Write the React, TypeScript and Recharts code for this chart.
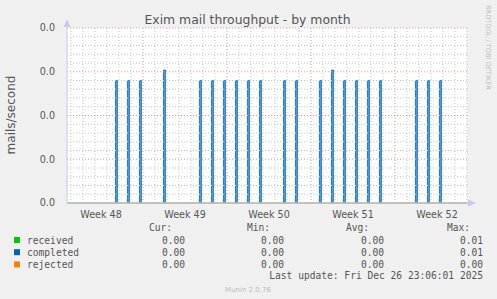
import React from 'react';
import { ComposedChart, Bar, Line, XAxis, YAxis, ReferenceLine, CartesianGrid } from 'recharts';

// time in days from the first daily gridline of the month view
const spikeTimes = [3.78, 4.78, 5.78, 7.78, 10.78, 11.78, 12.78, 13.78, 14.78, 15.78, 17.78, 18.78, 20.78, 21.78, 22.78, 23.78, 24.78, 25.78, 28.78, 29.78, 30.78];
const completedValues = [0.0028, 0.0028, 0.0028, 0.00304, 0.0028, 0.0028, 0.0028, 0.0028, 0.0028, 0.0028, 0.0028, 0.0028, 0.0028, 0.00304, 0.0028, 0.0028, 0.0028, 0.0028, 0.0028, 0.0028, 0.0028];
const receivedValues = [0, 0, 0, 0, 0, 0, 0, 0, 0, 0, 0, 0, 0, 0, 0, 0, 0, 0, 0, 0, 0];
const rejectedValues = [0, 0, 0, 0, 0, 0, 0, 0, 0, 0, 0, 0, 0, 0, 0, 0, 0, 0, 0, 0, 0];
const rangeStart = -1 / 3;
const rangeEnd = 33;

const weekLabels = ['Week 48', 'Week 49', 'Week 50', 'Week 51', 'Week 52'];
const weekLabelDays = [2.5, 9.5, 16.5, 23.5, 30.5];
const weekStartDays = [6, 13, 20, 27];
const dayLines = [0, 1, 2, 3, 4, 5, 7, 8, 9, 10, 11, 12, 14, 15, 16, 17, 18, 19, 21, 22, 23, 24, 25, 26, 28, 29, 30, 31, 32, 33];

const yMax = 0.004;
const yTicks = [0, 0.001, 0.002, 0.003, 0.004];
const yMinor = [0.0002, 0.0004, 0.0006, 0.0008, 0.0012, 0.0014, 0.0016, 0.0018, 0.0022, 0.0024, 0.0026, 0.0028, 0.0032, 0.0034, 0.0036, 0.0038];

const seriesNames = ['received', 'completed', 'rejected'];
const seriesColors = ['#00cc00', '#0066b3', '#ff8000'];
const curValues = ['0.00', '0.00', '0.00'];
const minValues = ['0.00', '0.00', '0.00'];
const avgValues = ['0.00', '0.00', '0.00'];
const maxValues = ['0.01', '0.01', '0.00'];

const data = [
  { t: rangeStart, received: 0, rejected: 0 },
  ...spikeTimes.map((t, i) => ({ t, completed: completedValues[i], received: receivedValues[i], rejected: rejectedValues[i] })),
  { t: rangeEnd, received: 0, rejected: 0 },
];

const labelFor = (v: number) => {
  const i = weekLabelDays.findIndex((d) => Math.abs(d - v) < 1e-6);
  return i >= 0 ? weekLabels[i] : '';
};

const mono = '"DejaVu Sans Mono", monospace';
const sans = '"DejaVu Sans", sans-serif';
const txt = '#555555';
const axisCol = '#c8c8f4';

export default function App() {
  return (
    <div style={{ position: 'absolute', left: 0, top: 0, width: 497, height: 299, background: '#f0f0f0', overflow: 'hidden' }}>
      <ComposedChart width={497} height={299} data={data} margin={{ top: 28, right: 30, bottom: 76, left: 0 }}>
        <CartesianGrid horizontal={false} vertical={false} fill="#ffffff" />
        {dayLines.map((d) => (
          <ReferenceLine key={'d' + d} x={d} stroke="#c4c4c4" strokeDasharray="1 2" ifOverflow="visible" />
        ))}
        {yMinor.map((v) => (
          <ReferenceLine key={'m' + v} y={v} stroke="#c4c4c4" strokeDasharray="1 2" />
        ))}
        {weekStartDays.map((d) => (
          <ReferenceLine key={'w' + d} x={d} stroke="#e89a9a" strokeDasharray="1 2" />
        ))}
        {yTicks.slice(1).map((v) => (
          <ReferenceLine key={'y' + v} y={v} stroke="#e89a9a" strokeDasharray="1 2" />
        ))}
        <XAxis
          dataKey="t"
          type="number"
          domain={[rangeStart, rangeEnd]}
          ticks={weekLabelDays}
          tickFormatter={labelFor}
          interval={0}
          height={20}
          allowDataOverflow
          axisLine={{ stroke: axisCol }}
          tickLine={false}
          tick={{ fill: txt, fontSize: 9.6, fontFamily: sans }}
          tickMargin={2}
        />
        <YAxis
          type="number"
          domain={[0, yMax]}
          ticks={yTicks}
          tickFormatter={(v: number) => v.toFixed(1)}
          width={67}
          interval={0}
          axisLine={{ stroke: axisCol }}
          tickLine={false}
          tick={{ fill: txt, fontSize: 9.6, fontFamily: sans }}
          tickMargin={6}
        />
        <Bar dataKey="completed" barSize={2} fill="#5a9bd3" stroke="#0066b3" strokeWidth={0.8} isAnimationActive={false} />
        <Line dataKey="received" stroke="#00cc00" dot={false} strokeWidth={1} isAnimationActive={false} connectNulls />
        <Line dataKey="rejected" stroke="#f2a080" dot={false} strokeWidth={1} isAnimationActive={false} connectNulls />
      </ComposedChart>
      <svg width={497} height={299} style={{ position: 'absolute', left: 0, top: 0, pointerEvents: 'none' }}>
        <text x={247.5} y={24} textAnchor="middle" fontFamily={sans} fontSize={12.4} fill={txt}>Exim mail throughput - by month</text>
        <text transform="translate(15,115) rotate(-90)" textAnchor="middle" fontFamily={sans} fontSize={12} fill={txt}>mails/second</text>
        <text transform="translate(486,5) rotate(90)" textAnchor="start" fontFamily={sans} fontSize={6.6} fill="#bdbdbd">RRDTOOL / TOBI OETIKER</text>
        <polygon points="63.5,27 67,19 70.5,27" fill={axisCol} />
        <polygon points="468,199.5 476,203 468,206.5" fill={axisCol} />
        <line x1={467} y1={203.5} x2={470} y2={203.5} stroke={axisCol} />
        <line x1={67.5} y1={25} x2={67.5} y2={28} stroke={axisCol} />
        <text x={149} y={231} fontFamily={mono} fontSize={9.6} fill={txt}>Cur:</text>
        <text x={247} y={231} fontFamily={mono} fontSize={9.6} fill={txt}>Min:</text>
        <text x={346} y={231} fontFamily={mono} fontSize={9.6} fill={txt}>Avg:</text>
        <text x={447} y={231} fontFamily={mono} fontSize={9.6} fill={txt}>Max:</text>
        {seriesNames.map((n, i) => (
          <g key={n}>
            <rect x={14} y={237 + i * 12.2} width={6} height={6} fill={seriesColors[i]} />
            <text x={27} y={243.5 + i * 12} fontFamily={mono} fontSize={9.6} fill={txt}>{n}</text>
            <text x={185} y={243.5 + i * 12} textAnchor="end" fontFamily={mono} fontSize={9.6} fill={txt}>{curValues[i]}</text>
            <text x={284} y={243.5 + i * 12} textAnchor="end" fontFamily={mono} fontSize={9.6} fill={txt}>{minValues[i]}</text>
            <text x={384} y={243.5 + i * 12} textAnchor="end" fontFamily={mono} fontSize={9.6} fill={txt}>{avgValues[i]}</text>
            <text x={483} y={243.5 + i * 12} textAnchor="end" fontFamily={mono} fontSize={9.6} fill={txt}>{maxValues[i]}</text>
          </g>
        ))}
        <text x={483} y={279} textAnchor="end" fontFamily={mono} fontSize={9.6} fill={txt}>Last update: Fri Dec 26 23:06:01 2025</text>
        <text x={248} y={292} textAnchor="middle" fontFamily={sans} fontSize={7} fill="#bdbdbd">Munin 2.0.76</text>
      </svg>
    </div>
  );
}
